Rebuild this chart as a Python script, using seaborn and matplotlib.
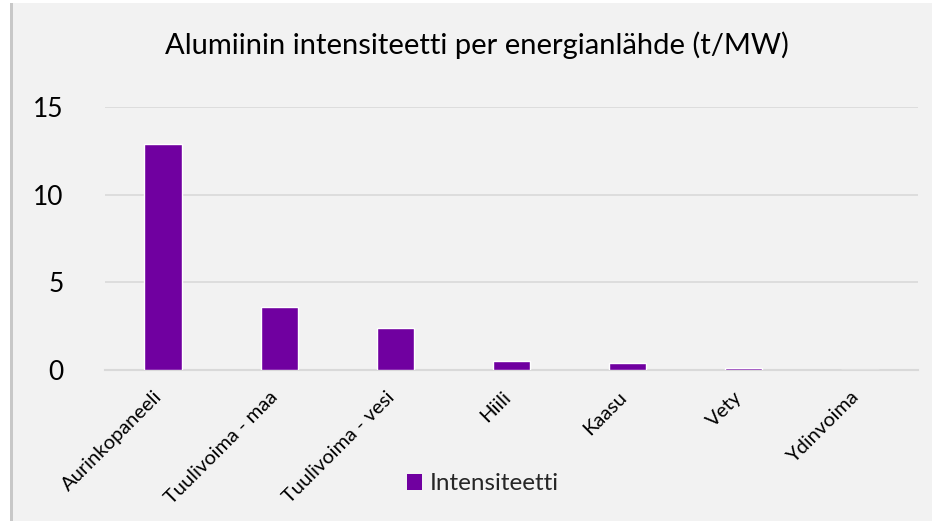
import pandas as pd
import matplotlib
matplotlib.use("Agg")
import matplotlib.pyplot as plt
from matplotlib.patches import Rectangle, Patch
from matplotlib.transforms import ScaledTranslation
import seaborn as sns

# data
categories = ["Aurinkopaneeli", "Tuulivoima - maa", "Tuulivoima - vesi",
              "Hiili", "Kaasu", "Vety", "Ydinvoima"]
intensity = [12.9, 3.6, 2.4, 0.5, 0.4, 0.1, 0.01]
series_name = "Intensiteetti"
title = "Alumiinin intensiteetti per energianlähde (t/MW)"
yticks = [0, 5, 10, 15]

bar_color = "#7000A0"
bg = "#F2F2F2"
grid_color = "#D9D9D9"

sns.set_theme(style="white")
plt.rcParams["font.family"] = ["Lato", "DejaVu Sans"]

df = pd.DataFrame({"energianlahde": categories, "intensiteetti": intensity})

W, H = 932, 521
fig = plt.figure(figsize=(W / 100, H / 100), dpi=100, facecolor="white")

# chart area with a soft left shadow, like the Excel frame
fig.patches.append(Rectangle((10 / W, 0), 4 / W, (H - 3) / H, transform=fig.transFigure,
                             facecolor="#C8C8C8", edgecolor="none", zorder=-2))
fig.patches.append(Rectangle((13 / W, 0), (W - 13) / W, (H - 3) / H, transform=fig.transFigure,
                             facecolor=bg, edgecolor="none", zorder=-1))

ax = fig.add_axes([105 / W, (H - 370) / H, (918 - 105) / W, (370 - 107) / H])
ax.set_facecolor(bg)

sns.barplot(data=df, x="energianlahde", y="intensiteetti", color=bar_color,
            saturation=1, width=0.32, ax=ax, zorder=3)

ax.set_ylim(0, 15)
ax.set_yticks(yticks)
ax.set_xlim(-0.5, len(categories) - 0.5)
ax.yaxis.grid(True, color=grid_color, linewidth=1.2, zorder=0)
ax.set_axisbelow(True)
for side in ["top", "right", "left"]:
    ax.spines[side].set_visible(False)
ax.spines["bottom"].set_color(grid_color)
ax.spines["bottom"].set_linewidth(1.5)
ax.spines["bottom"].set_zorder(1)
ax.set_xlabel("")
ax.set_ylabel("")
ax.tick_params(axis="y", length=0, labelsize=19, pad=30)
ax.tick_params(axis="x", length=0, labelsize=14.5, pad=13)
for lbl in ax.get_yticklabels():
    lbl.set_color("black")
shift = ScaledTranslation(-10 / 100, 0, fig.dpi_scale_trans)
for lbl in ax.get_xticklabels():
    lbl.set_color("black")
    lbl.set_rotation(45)
    lbl.set_ha("right")
    lbl.set_va("top")
    lbl.set_rotation_mode("anchor")
    lbl.set_transform(lbl.get_transform() + shift)

fig.text(477 / W, 1 - 45 / H, title, ha="center", va="center", fontsize=21, color="black")

fig.legend(handles=[Patch(facecolor=bar_color, edgecolor="none", label=series_name)],
           loc="center", bbox_to_anchor=(483 / W, 1 - 484 / H), frameon=False,
           fontsize=17.5, handlelength=0.62, handleheight=0.62, handletextpad=0.3)

fig.savefig("out.png", dpi=100, facecolor="white")
